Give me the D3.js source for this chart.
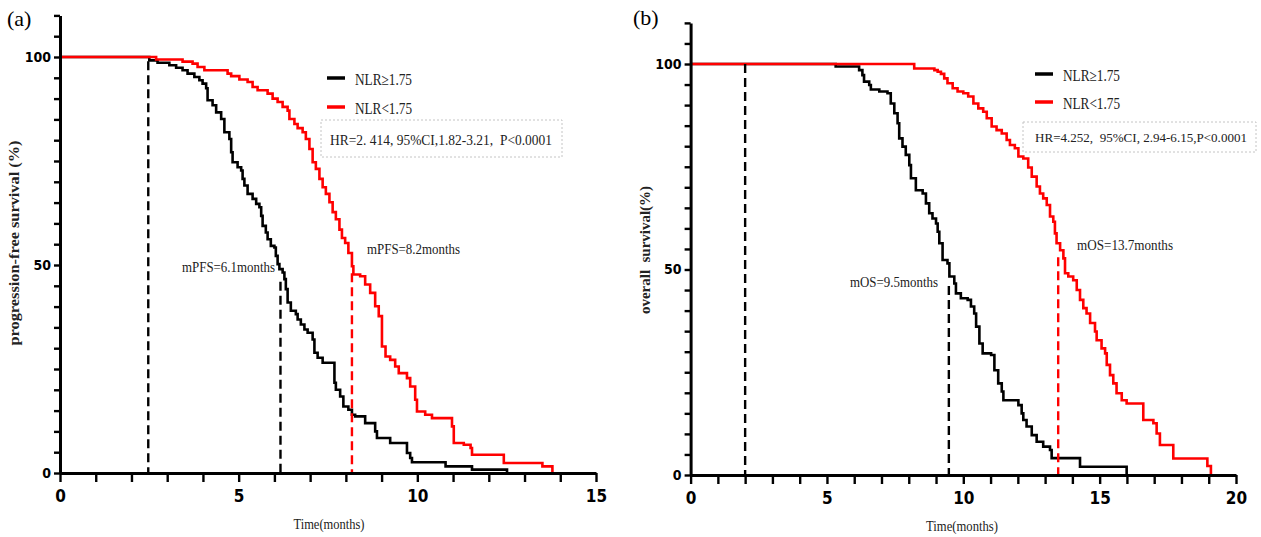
<!DOCTYPE html>
<html><head><meta charset="utf-8">
<script src="https://cdn.jsdelivr.net/npm/d3@7"></script>
<style>
body{margin:0;background:#fff}
svg{display:block}
.tick text{font-family:"Liberation Sans Narrow","Arial Narrow","DejaVu Sans Condensed",sans-serif;font-weight:bold;fill:#000}
.serif{font-family:"Liberation Serif","Times New Roman",serif;fill:#222}
</style></head><body>
<svg id="c" width="1261" height="537"></svg>
<script>
// ---------- data ----------
const groupLabels = ["NLR\u22651.75", "NLR<1.75"];
const xTicksA = d3.range(0, 16, 1);
const xTicksB = d3.range(0, 21, 1);
const yTicks = d3.range(0, 111, 5);
const yLabelTicks = [0, 50, 100];
const xLabelTicks = [0, 5, 10, 15, 20];

// PFS (a): [month, survival %] step points
const pfsHigh = [[0,100],[2.50,99.2],[2.73,98.6],[3.06,98.0],[3.25,97.4],[3.43,96.8],[3.57,96.0],[3.76,95.2],[3.90,94.4],[3.99,93.6],[4.09,92.5],[4.13,89.6],[4.27,88.4],[4.37,86.7],[4.51,85.1],[4.60,81.9],[4.74,80.3],[4.79,77.1],[4.83,74.7],[4.97,73.5],[5.07,72.7],[5.11,70.7],[5.16,69.1],[5.25,67.1],[5.39,65.9],[5.49,64.7],[5.58,63.9],[5.63,61.8],[5.67,59.4],[5.76,57.8],[5.81,56.2],[5.90,54.6],[6.00,54.2],[6.04,52.2],[6.09,50.2],[6.14,49.0],[6.23,48.2],[6.28,46.6],[6.32,44.2],[6.37,41.0],[6.46,39.0],[6.60,38.2],[6.65,36.9],[6.74,35.7],[6.84,34.5],[6.93,33.7],[7.07,32.1],[7.12,28.9],[7.21,27.7],[7.35,26.5],[7.68,21.7],[7.72,20.0],[7.84,18.4],[7.93,16.0],[8.07,15.2],[8.17,14.0],[8.26,13.6],[8.54,12.0],[8.82,10.0],[8.87,8.4],[9.24,7.2],[9.71,4.8],[9.80,3.6],[9.85,2.6],[10.79,1.6],[11.53,0.8],[12.51,0]];
const pfsLow = [[0,100],[2.69,99.4],[3.43,98.9],[3.71,98.4],[3.85,97.6],[4.04,96.8],[4.69,96.0],[4.79,95.4],[5.02,94.6],[5.25,94.0],[5.39,92.8],[5.53,92.0],[5.81,91.2],[5.95,90.0],[6.09,89.2],[6.23,88.0],[6.37,87.1],[6.42,85.1],[6.56,83.9],[6.65,82.9],[6.79,81.9],[6.88,80.3],[6.98,77.9],[7.07,74.7],[7.16,73.1],[7.26,70.7],[7.35,68.7],[7.44,67.1],[7.54,65.1],[7.63,62.7],[7.72,61.0],[7.82,58.5],[7.89,56.5],[7.98,55.3],[8.07,52.9],[8.17,49.7],[8.21,47.7],[8.40,47.3],[8.54,45.3],[8.68,43.3],[8.82,40.1],[8.92,37.7],[9.01,30.4],[9.11,28.0],[9.24,27.2],[9.38,25.6],[9.48,24.0],[9.71,22.8],[9.80,20.8],[9.94,17.6],[9.99,14.8],[10.22,14.0],[10.41,13.2],[10.97,11.2],[11.02,7.2],[11.30,6.8],[11.49,6.0],[11.53,4.4],[12.42,2.4],[13.50,1.6],[13.78,0]];

// OS (b)
const osHigh = [[0,100],[5.32,99.4],[6.18,98.5],[6.30,97.3],[6.36,95.7],[6.55,94.9],[6.61,93.8],[6.92,93.3],[7.22,92.9],[7.34,90.4],[7.47,88.0],[7.59,85.6],[7.65,81.9],[7.77,79.9],[7.89,77.9],[8.02,75.4],[8.08,72.2],[8.26,69.3],[8.51,68.5],[8.63,66.1],[8.75,63.7],[8.87,62.4],[9.00,61.2],[9.06,59.2],[9.12,56.4],[9.24,52.3],[9.42,51.5],[9.49,48.3],[9.67,46.6],[9.73,44.2],[9.91,43.0],[10.16,42.6],[10.28,41.0],[10.40,39.3],[10.47,36.1],[10.59,32.0],[10.71,29.6],[11.02,29.2],[11.14,25.5],[11.28,22.3],[11.41,20.3],[11.47,18.2],[12.02,17.0],[12.14,15.0],[12.20,13.4],[12.32,11.8],[12.51,9.7],[12.69,8.1],[12.93,6.9],[13.18,6.1],[13.24,4.1],[14.28,2.0],[15.99,0]];
const osLow = [[0,100],[8.20,98.9],[8.94,98.5],[9.06,98.1],[9.18,97.6],[9.30,96.5],[9.42,95.3],[9.61,94.1],[9.79,93.3],[10.00,92.9],[10.18,92.1],[10.37,90.4],[10.55,89.2],[10.73,88.4],[10.86,86.8],[11.04,84.8],[11.22,83.9],[11.41,83.1],[11.59,81.5],[11.71,80.3],[11.89,79.5],[12.02,77.5],[12.20,77.0],[12.38,74.8],[12.51,72.6],[12.69,70.2],[12.81,68.5],[12.93,67.3],[13.06,65.7],[13.18,62.9],[13.30,61.6],[13.36,58.8],[13.42,56.4],[13.55,54.7],[13.67,52.7],[13.73,49.1],[13.85,48.3],[14.03,47.4],[14.16,45.0],[14.28,42.6],[14.40,40.6],[14.52,39.3],[14.65,37.0],[14.83,34.9],[14.89,32.8],[15.07,30.8],[15.20,29.6],[15.26,26.8],[15.38,24.3],[15.50,22.3],[15.62,19.9],[15.81,18.2],[15.99,17.4],[16.60,13.4],[16.97,12.6],[17.09,10.1],[17.21,7.3],[17.70,4.0],[18.95,2.2],[19.08,0]];

// median reference lines: [month, top %, group index]
const mediansA = [[2.47,99,0],[6.17,46,0],[8.17,48,1]];
const mediansB = [[2.0,100,0],[9.47,46,0],[13.48,53,1]];

const medianTextA = ["mPFS=6.1months", "mPFS=8.2months"];
const medianTextB = ["mOS=9.5months", "mOS=13.7months"];
const hrTextA = "HR=2. 414, 95%CI,1.82-3.21,  P<0.0001";
const hrTextB = "HR=4.252,  95%CI, 2.94-6.15,P<0.0001";
const yTitleA = "progression-free survival (%)";
const yTitleB = "overall  survival(%)";
const xTitle = "Time(months)";
const panelTags = ["(a)", "(b)"];

// ---------- drawing ----------
const colors = ["#000000", "#ff0000"];
const svg = d3.select("#c");

function panel(o) {
  const x = d3.scaleLinear().domain([0, o.xMax]).range(o.xr);
  const y = d3.scaleLinear().domain([0, 110]).range(o.yr);
  const g = svg.append("g");

  // curves
  const line = d3.line().x(d => x(d[0])).y(d => y(d[1])).curve(d3.curveStepAfter);
  o.series.forEach((s, i) => {
    g.append("path").datum(s).attr("d", line).attr("fill", "none")
      .attr("stroke", colors[i]).attr("stroke-width", 2.6);
  });

  // median dashed lines
  g.selectAll(".med").data(o.medians).join("line")
    .attr("x1", d => x(d[0])).attr("x2", d => x(d[0]))
    .attr("y1", d => y(d[1])).attr("y2", y(0))
    .attr("stroke", d => colors[d[2]]).attr("stroke-width", 2.4)
    .attr("stroke-dasharray", "9,5");

  // axes
  const xa = g.append("g").attr("transform", `translate(0,${y(0)})`)
    .call(d3.axisBottom(x).tickValues(o.xTicks)
      .tickFormat(d => xLabelTicks.includes(d) ? d : "")
      .tickSize(9).tickSizeOuter(0).tickPadding(8));
  const ya = g.append("g").attr("transform", `translate(${x(0)},0)`)
    .call(d3.axisLeft(y).tickValues(yTicks)
      .tickFormat(d => yLabelTicks.includes(d) ? d : "")
      .tickSize(6).tickSizeOuter(0).tickPadding(3));
  [xa, ya].forEach(a => {
    a.select(".domain").attr("stroke", "#000").attr("stroke-width", 3);
    a.selectAll(".tick line").attr("stroke", "#000").attr("stroke-width", 2.4);
  });
  xa.selectAll(".tick text").attr("font-size", 17);
  ya.selectAll(".tick text").attr("font-size", 14);

  // titles
  svg.append("text").attr("class", "serif").attr("x", o.tag[0]).attr("y", o.tag[1])
    .attr("font-size", 22).style("fill", "#000").text(o.tagText);
  svg.append("text").attr("class", "serif")
    .attr("transform", `translate(${o.yTitle[0]},${o.yTitle[1]}) rotate(-90)`)
    .attr("text-anchor", "middle").attr("font-size", 14).attr("font-weight", "bold")
    .attr("textLength", o.yTitle[2]).attr("lengthAdjust", "spacingAndGlyphs")
    .style("white-space", "pre").text(o.yTitleText);
  svg.append("text").attr("class", "serif").attr("x", o.xTitle[0]).attr("y", o.xTitle[1])
    .attr("text-anchor", "middle").attr("font-size", 15)
    .attr("textLength", o.xTitle[2]).attr("lengthAdjust", "spacingAndGlyphs").text(xTitle);

  // legend
  groupLabels.forEach((lab, i) => {
    const ly = o.legend[1] + i * o.legend[2];
    svg.append("line").attr("x1", o.legend[0]).attr("x2", o.legend[0] + 18)
      .attr("y1", ly).attr("y2", ly).attr("stroke", colors[i]).attr("stroke-width", 3.5);
    svg.append("text").attr("class", "serif").attr("x", o.legend[0] + 28).attr("y", ly + 7)
      .attr("font-size", 16).attr("textLength", 57).attr("lengthAdjust", "spacingAndGlyphs").text(lab);
  });

  // HR box
  svg.append("rect").attr("x", o.hrBox[0]).attr("y", o.hrBox[1]).attr("width", o.hrBox[2]).attr("height", o.hrBox[3])
    .attr("fill", "none").attr("stroke", "#c4c4c4").attr("stroke-width", 1).attr("stroke-dasharray", "2,2");
  svg.append("text").attr("class", "serif").attr("x", o.hrText[0]).attr("y", o.hrText[1])
    .attr("font-size", o.hrText[3]).attr("textLength", o.hrText[2]).attr("lengthAdjust", "spacingAndGlyphs")
    .style("white-space", "pre").text(o.hrString);

  // median annotations
  o.medText.forEach((t, i) => {
    const p = o.medPos[i];
    svg.append("text").attr("class", "serif").attr("x", p[0]).attr("y", p[1])
      .attr("font-size", 15).attr("textLength", p[2]).attr("lengthAdjust", "spacingAndGlyphs").text(t);
  });
}

panel({
  xMax: 15, xr: [60, 596], yr: [473, 473 - 110 * 4.16], xTicks: xTicksA,
  series: [pfsHigh, pfsLow], medians: mediansA,
  tag: [7, 26], tagText: panelTags[0],
  yTitle: [19, 243, 205], yTitleText: yTitleA,
  xTitle: [329, 529, 71],
  legend: [327, 78, 29],
  hrBox: [321, 120, 241, 37], hrText: [330, 145, 222, 15], hrString: hrTextA,
  medText: medianTextA, medPos: [[182, 272, 93], [367, 254, 93]]
});
panel({
  xMax: 20, xr: [690.6, 1236], yr: [475, 475 - 110 * 4.11], xTicks: xTicksB,
  series: [osHigh, osLow], medians: mediansB,
  tag: [633, 25], tagText: panelTags[1],
  yTitle: [650, 250, 128], yTitleText: yTitleB,
  xTitle: [962, 531, 72],
  legend: [1035, 74, 28],
  hrBox: [1023, 122, 233, 30], hrText: [1035, 142, 212, 13.5], hrString: hrTextB,
  medText: medianTextB, medPos: [[850, 287, 88], [1077, 250, 96]]
});
</script></body></html>
